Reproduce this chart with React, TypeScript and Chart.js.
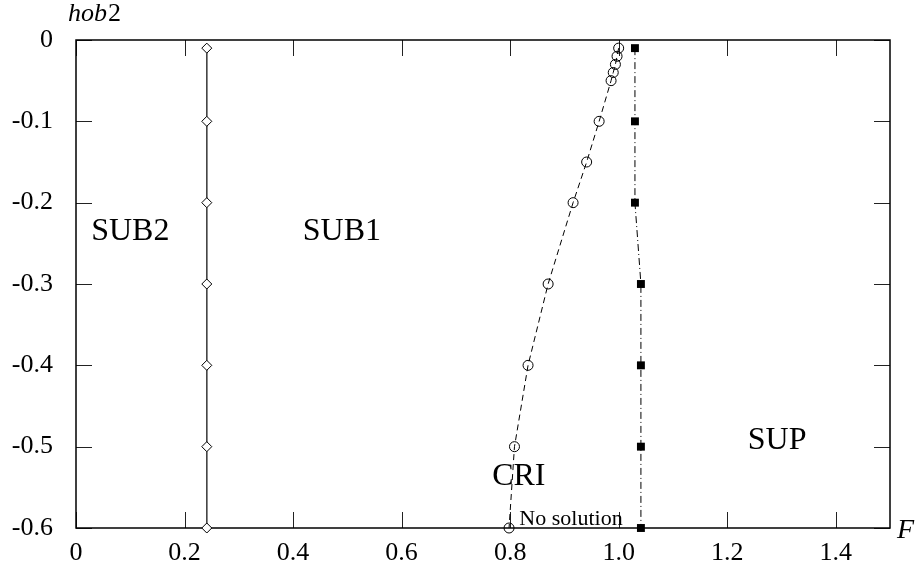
import { useEffect, useRef } from "react";
import { Chart, registerables } from "chart.js";

Chart.register(...registerables);

// ---- data ----
const xTicks = [0, 0.2, 0.4, 0.6, 0.8, 1.0, 1.2, 1.4];
const xTickLabels = ["0", "0.2", "0.4", "0.6", "0.8", "1.0", "1.2", "1.4"];
const yTicks = [0, -0.1, -0.2, -0.3, -0.4, -0.5, -0.6];
const yTickLabels = ["0", "-0.1", "-0.2", "-0.3", "-0.4", "-0.5", "-0.6"];

const sub2F = [0.241, 0.241, 0.241, 0.241, 0.241, 0.241, 0.241];
const sub2H = [-0.01, -0.1, -0.2, -0.3, -0.4, -0.5, -0.6];

const criF = [1.0, 0.997, 0.994, 0.99, 0.986, 0.964, 0.941, 0.916, 0.87, 0.833, 0.808, 0.798];
const criH = [-0.01, -0.02, -0.03, -0.04, -0.05, -0.1, -0.15, -0.2, -0.3, -0.4, -0.5, -0.6];

const supF = [1.03, 1.03, 1.03, 1.041, 1.041, 1.041, 1.041];
const supH = [-0.01, -0.1, -0.2, -0.3, -0.4, -0.5, -0.6];

const regionNames = ["SUB2", "SUB1", "CRI", "SUP"];
const regionF = [0.1, 0.49, 0.816, 1.292];
const regionH = [-0.236, -0.236, -0.537, -0.493];

const noteText = "No solution";
const noteF = 0.817;
const noteH = -0.596;

const SERIF = "'Liberation Serif', 'DejaVu Serif', serif";
const TICK = 16;

const zip = (xs: number[], ys: number[]) => xs.map((x, i) => ({ x, y: ys[i] }));

const framePlugin = {
  id: "frame",
  beforeDatasetsDraw(chart: any) {
    const { ctx, chartArea: a, scales } = chart;
    const xs = scales.x;
    const ys = scales.y;
    ctx.save();
    ctx.strokeStyle = "#222";
    ctx.lineWidth = 1;
    ctx.beginPath();
    for (const v of xTicks) {
      const px = Math.round(xs.getPixelForValue(v)) + 0.5;
      ctx.moveTo(px, a.bottom);
      ctx.lineTo(px, a.bottom - TICK);
      ctx.moveTo(px, a.top);
      ctx.lineTo(px, a.top + TICK);
    }
    for (const v of yTicks) {
      const py = Math.round(ys.getPixelForValue(v)) + 0.5;
      ctx.moveTo(a.left, py);
      ctx.lineTo(a.left + TICK, py);
      ctx.moveTo(a.right, py);
      ctx.lineTo(a.right - TICK, py);
    }
    ctx.stroke();
    ctx.strokeStyle = "#000";
    ctx.lineWidth = 1.5;
    ctx.strokeRect(a.left, a.top, a.right - a.left, a.bottom - a.top);
    ctx.restore();
  },
  afterDraw(chart: any) {
    const { ctx, chartArea: a, scales } = chart;
    const xs = scales.x;
    const ys = scales.y;
    ctx.save();
    ctx.fillStyle = "#000";
    ctx.textBaseline = "middle";
    ctx.textAlign = "center";
    ctx.font = `32px ${SERIF}`;
    regionNames.forEach((n, i) => {
      ctx.fillText(n, xs.getPixelForValue(regionF[i]), ys.getPixelForValue(regionH[i]));
    });
    ctx.textAlign = "left";
    ctx.textBaseline = "alphabetic";
    ctx.font = `22px ${SERIF}`;
    ctx.fillText(noteText, xs.getPixelForValue(noteF), ys.getPixelForValue(noteH));
    // axis labels
    ctx.font = `italic 28px ${SERIF}`;
    ctx.fillText("F", a.right + 7, a.bottom + 10);
    ctx.font = `italic 26px ${SERIF}`;
    const hx = 68;
    const hy = 21;
    ctx.fillText("hob", hx, hy);
    const w = ctx.measureText("hob").width;
    ctx.font = `26px ${SERIF}`;
    ctx.fillText("2", hx + w + 1, hy);
    ctx.restore();
  },
};

export default function App() {
  const ref = useRef<HTMLCanvasElement | null>(null);
  useEffect(() => {
    const canvas = ref.current;
    if (!canvas) return;
    const chart = new Chart(canvas, {
      type: "scatter",
      data: {
        datasets: [
          {
            label: "SUB2",
            data: zip(sub2F, sub2H),
            showLine: true,
            borderColor: "#444",
            borderWidth: 1,
            pointStyle: "rectRot",
            pointRadius: 5,
            pointBorderColor: "#000",
            pointBackgroundColor: "#fff",
            pointBorderWidth: 1,
            clip: false as any,
          },
          {
            label: "CRI",
            data: zip(criF, criH),
            showLine: true,
            borderColor: "#000",
            borderWidth: 1,
            borderDash: [6, 4],
            pointStyle: "circle",
            pointRadius: 5,
            pointBorderColor: "#000",
            pointBackgroundColor: "rgba(255,255,255,0)",
            pointBorderWidth: 1,
            clip: false as any,
          },
          {
            label: "SUP",
            data: zip(supF, supH),
            showLine: true,
            borderColor: "#000",
            borderWidth: 1,
            borderDash: [7, 3, 1, 3],
            pointStyle: "rect",
            pointRadius: 5.6,
            pointBorderColor: "#000",
            pointBackgroundColor: "#000",
            pointBorderWidth: 0,
            clip: false as any,
          },
        ],
      },
      options: {
        animation: false,
        responsive: false,
        layout: { padding: { top: 40, right: 28, left: 0, bottom: 0 } },
        plugins: { legend: { display: false }, tooltip: { enabled: false } },
        scales: {
          x: {
            type: "linear",
            min: 0,
            max: 1.5,
            grid: { display: false },
            border: { display: false },
            afterBuildTicks: (s: any) => {
              s.ticks = xTicks.map((v) => ({ value: v }));
            },
            afterFit: (s: any) => {
              s.height = 33;
            },
            ticks: {
              color: "#000",
              font: { family: SERIF, size: 26 },
              padding: 2,
              maxRotation: 0,
              autoSkip: false,
              callback: (_v: any, i: number) => xTickLabels[i],
            },
          },
          y: {
            type: "linear",
            min: -0.6,
            max: 0,
            grid: { display: false },
            border: { display: false },
            afterBuildTicks: (s: any) => {
              s.ticks = yTicks.map((v) => ({ value: v }));
            },
            afterFit: (s: any) => {
              s.width = 76;
            },
            ticks: {
              color: "#000",
              font: { family: SERIF, size: 26 },
              padding: 15,
              autoSkip: false,
              callback: (_v: any, i: number) => yTickLabels[i],
            },
          },
        },
      },
      plugins: [framePlugin],
    });
    return () => chart.destroy();
  }, []);
  return (
    <div style={{ position: "absolute", left: 0, top: 0, width: 918, height: 561, background: "#fff" }}>
      <canvas ref={ref} width={918} height={561} />
    </div>
  );
}
